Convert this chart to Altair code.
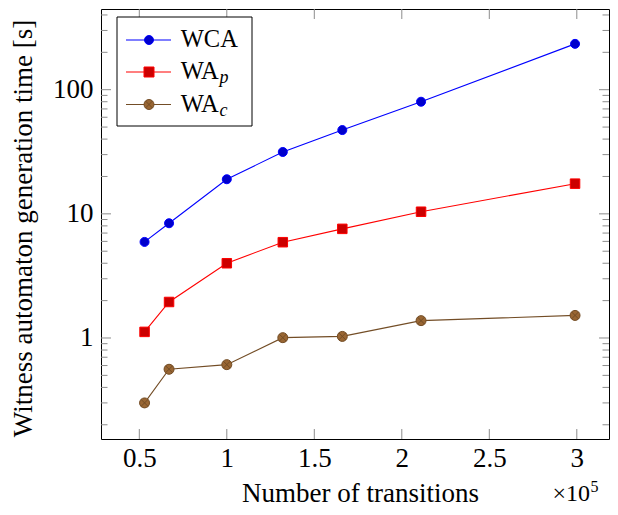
import altair as alt
import pandas as pd

# ---- data (x in units of 10^5 transitions, y in seconds) ----
transitions = [0.53, 0.67, 1.00, 1.32, 1.66, 2.11, 2.99]
wca = [5.94, 8.4, 19.0, 31.5, 47.3, 80.0, 234.0]
wa_p = [1.12, 1.95, 4.0, 5.91, 7.57, 10.4, 17.5]
wa_c = [0.30, 0.56, 0.61, 1.006, 1.03, 1.38, 1.52]
series = ["WCA", "WAp", "WAc"]
line_colors = ["#0000ff", "#ff0000", "#734d26"]
fill_colors = ["#0000cc", "#cc0000", "#996633"]
x_ticks = [0.5, 1.0, 1.5, 2.0, 2.5, 3.0]
y_major = [1, 10, 100]
y_minor = [0.2, 0.3, 0.4, 0.5, 0.6, 0.7, 0.8, 0.9,
           2, 3, 4, 5, 6, 7, 8, 9,
           20, 30, 40, 50, 60, 70, 80, 90,
           200, 300, 400]

FONT = "Liberation Serif, Times New Roman, serif"
W, H = 508, 430
OTIMES = ("M-1,0A1,1,0,1,1,1,0A1,1,0,1,1,-1,0Z"
          "M-0.7071,-0.7071L0.7071,0.7071M-0.7071,0.7071L0.7071,-0.7071")
shapes = ["circle", "square", OTIMES]
sizes = [81, 100, 100]

rows = []
for name, vals in zip(series, [wca, wa_p, wa_c]):
    for xv, yv in zip(transitions, vals):
        rows.append({"x": xv, "y": yv, "series": name})
df = pd.DataFrame(rows)

xscale = alt.Scale(domain=[0.2811, 3.1840], nice=False, zero=False)
yscale = alt.Scale(type="log", domain=[0.1536, 446.7], nice=False)

X = alt.X("x:Q", scale=xscale,
          axis=alt.Axis(values=x_ticks, format="~g", title="Number of transitions",
                        titleY=62, titleBaseline="alphabetic", titleX=259,
                        labelBaseline="alphabetic", labelPadding=27))
Y = alt.Y("y:Q", scale=yscale,
          axis=alt.Axis(values=y_major, format="~g",
                        title="Witness automaton generation time [s]",
                        titleAngle=270, titleX=-78, titleY=219,
                        titleBaseline="middle", titleAlign="center",
                        labelPadding=8, labelBaseline="middle"))

lines = alt.Chart(df).mark_line(strokeWidth=1.1).encode(
    x=X, y=Y,
    color=alt.Color("series:N", scale=alt.Scale(domain=series, range=line_colors), legend=None),
    detail="series:N",
)
points = alt.Chart(df).mark_point(filled=False, opacity=1, strokeWidth=1).encode(
    x="x:Q", y="y:Q",
    shape=alt.Shape("series:N", scale=alt.Scale(domain=series, range=shapes), legend=None),
    fill=alt.Fill("series:N", scale=alt.Scale(domain=series, range=fill_colors), legend=None),
    stroke=alt.Stroke("series:N", scale=alt.Scale(domain=series, range=line_colors), legend=None),
    size=alt.Size("series:N", scale=alt.Scale(domain=series, range=sizes), legend=None),
)

TICK = "#8c8c8c"
xt = pd.DataFrame({"x": x_ticks})
ymaj = pd.DataFrame({"y": y_major})
ymin = pd.DataFrame({"y": y_minor})
tick_layers = [
    alt.Chart(xt).mark_rule(color=TICK).encode(x="x:Q", y=alt.value(H - 10), y2=alt.value(H)),
    alt.Chart(xt).mark_rule(color=TICK).encode(x="x:Q", y=alt.value(0), y2=alt.value(10)),
    alt.Chart(ymaj).mark_rule(color=TICK).encode(y="y:Q", x=alt.value(0), x2=alt.value(10)),
    alt.Chart(ymaj).mark_rule(color=TICK).encode(y="y:Q", x=alt.value(W - 10), x2=alt.value(W)),
    alt.Chart(ymin).mark_rule(color=TICK).encode(y="y:Q", x=alt.value(0), x2=alt.value(6.5)),
    alt.Chart(ymin).mark_rule(color=TICK).encode(y="y:Q", x=alt.value(W - 6.5), x2=alt.value(W)),
]

# ---- legend (drawn inside plot, top-left) ----
one = pd.DataFrame({"k": [0]})
legend_layers = [
    alt.Chart(one).mark_rect(fill="white", stroke="black", strokeWidth=1).encode(
        x=alt.value(16), x2=alt.value(151), y=alt.value(8), y2=alt.value(117))
]
row_y = [31, 63, 95.5]
base_y = [37.7, 70.3, 102.8]
subs = ["", "p", "c"]
labels = ["WCA", "WA", "WA"]
for i in range(3):
    legend_layers.append(
        alt.Chart(one).mark_rule(color=line_colors[i], strokeWidth=1.1).encode(
            x=alt.value(25), x2=alt.value(70), y=alt.value(row_y[i])))
    legend_layers.append(
        alt.Chart(one).mark_point(filled=False, opacity=1, strokeWidth=1,
                                  shape=shapes[i], size=sizes[i],
                                  fill=fill_colors[i], stroke=line_colors[i]).encode(
            x=alt.value(48), y=alt.value(row_y[i])))
    legend_layers.append(
        alt.Chart(one).mark_text(text=labels[i], font=FONT, fontSize=24.5, align="left",
                                 baseline="alphabetic", color="black").encode(
            x=alt.value(79.7), y=alt.value(base_y[i])))
    if subs[i]:
        legend_layers.append(
            alt.Chart(one).mark_text(text=subs[i], font=FONT, fontSize=18, fontStyle="italic",
                                     align="left", baseline="alphabetic", color="black").encode(
                x=alt.value(118.5), y=alt.value(base_y[i] + 4)))

# ---- x-axis multiplier ----
mult = [
    alt.Chart(one).mark_text(text="×10", font=FONT, fontSize=24, align="right",
                             baseline="alphabetic", color="black").encode(
        x=alt.value(489), y=alt.value(H + 62)),
    alt.Chart(one).mark_text(text="5", font=FONT, fontSize=16, align="left",
                             baseline="alphabetic", color="black").encode(
        x=alt.value(489.5), y=alt.value(H + 53)),
]

chart = alt.layer(*tick_layers, lines, points, *legend_layers, *mult).properties(
    width=W, height=H,
    autosize=alt.AutoSizeParams(type="none"),
    padding={"left": 93, "top": 1, "right": 1, "bottom": 68},
).configure_view(
    stroke="black", strokeWidth=1
).configure_axis(
    domain=False, ticks=False, tickSize=0, grid=False,
    labelFont=FONT, labelFontSize=27, labelColor="black",
    titleFont=FONT, titleFontSize=27, titleColor="black", titleFontWeight="normal",
)

chart.save("out.html", embed_options={"renderer": "svg", "actions": False})
